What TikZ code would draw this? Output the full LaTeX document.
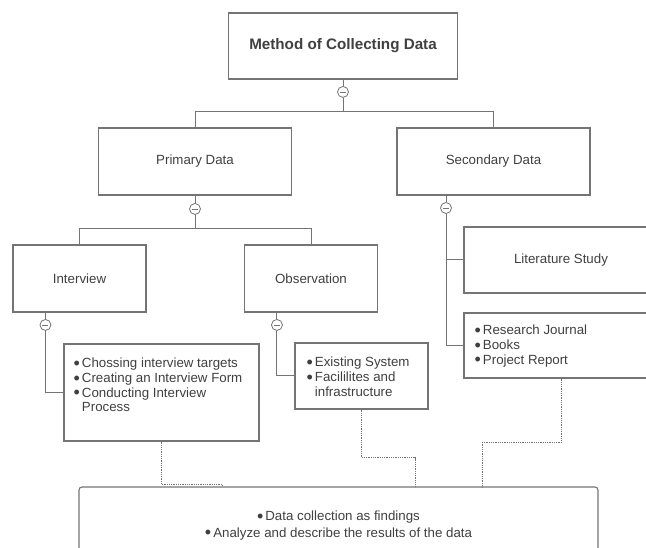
\documentclass[tikz,border=0pt]{standalone}
\usepackage{fontspec}
\setmainfont{Liberation Sans}
\usetikzlibrary{positioning}
\definecolor{linegray}{HTML}{747474}
\definecolor{txtgray}{HTML}{404040}
\newcommand{\bul}{\raisebox{-1.8pt}{\fontsize{18}{12}\selectfont\textbullet}}

\begin{document}
\begin{tikzpicture}[x=1pt,y=-1pt,
  box/.style={draw=linegray,line width=1.1pt,fill=white,text=txtgray,inner sep=0pt,font=\fontsize{13.3}{15}\selectfont},
  lst/.style={anchor=north west,inner sep=0pt,text=txtgray,font=\fontsize{13.3}{14.8}\selectfont},
  mk/.style={circle,draw=linegray,line width=0.8pt,fill=white,minimum size=11pt,inner sep=0pt,
    path picture={\draw[linegray,line width=0.8pt] ([xshift=-3pt]path picture bounding box.center)--([xshift=3pt]path picture bounding box.center);}},
  ln/.style={draw=linegray,line width=1pt},
  dl/.style={draw=linegray,line width=0.8pt,densely dotted}]
\useasboundingbox (0,0) rectangle (646,548);
\clip (0,0) rectangle (646,548);
% top level
\node[box,minimum width=229pt,minimum height=66pt,font=\fontsize{15.2}{17}\selectfont\bfseries] (method) at (343,46) {Method of Collecting Data};
\node[box,minimum width=193pt,minimum height=67pt] (primary) at (195,161.5) {Primary Data};
\node[box,minimum width=193pt,minimum height=67pt] (secondary) at (493.5,161.5) {Secondary Data};
\node[mk,below=6.5pt of method] (m1) {};
\draw[ln] (method.south) -- (m1.north);
\draw[ln] (m1.south) -- ++(0,13.5) coordinate (j1);
\draw[ln] (primary.north) |- (j1) -| (secondary.north);
% primary data
\node[box,minimum width=133pt,minimum height=67pt] (interview) at (79.5,278.5) {Interview};
\node[box,minimum width=133pt,minimum height=67pt] (observation) at (311,278.5) {Observation};
\node[mk,below=7.5pt of primary] (m2) {};
\draw[ln] (primary.south) -- (m2.north);
\draw[ln] (m2.south) -- ++(0,13.5) coordinate (j2);
\draw[ln] (interview.north) |- (j2) -| (observation.north);
% secondary data
\node[box,minimum width=194pt,minimum height=66pt] (literature) at (561,260) {Literature Study};
\node[box,minimum width=194pt,minimum height=65pt] (sources) at (561,345.5) {};
\node[lst] at ([xshift=11pt,yshift=-11.5pt]sources.north west) {\begin{tabular}{@{}l@{\hspace{2pt}}l@{}}\bul & Research Journal\\ \bul & Books\\ \bul & Project Report\end{tabular}};
\node[mk] (m3) at (446,208) {};
\draw[ln] (m3 |- secondary.south) -- (m3.north);
\draw[ln] (m3.south) |- (sources.west);
\draw[ln] (m3 |- literature.west) -- (literature.west);
% interview and observation
\node[box,minimum width=195pt,minimum height=97pt] (ilist) at (161.5,392.5) {};
\node[lst] at ([xshift=10pt,yshift=-13.5pt]ilist.north west) {\begin{tabular}{@{}l@{\hspace{2pt}}l@{}}\bul & Chossing interview targets\\ \bul & Creating an Interview Form\\ \bul & Conducting Interview\\ & Process\end{tabular}};
\node[box,minimum width=133pt,minimum height=66pt] (olist) at (361.5,376) {};
\node[lst] at ([xshift=12pt,yshift=-13.5pt]olist.north west) {\begin{tabular}{@{}l@{\hspace{2pt}}l@{}}\bul & Existing System\\ \bul & Facililites and\\ & infrastructure\end{tabular}};
\node[mk,below=6.5pt of interview.south west,xshift=33pt] (m4) {};
\node[mk,below=6.5pt of observation.south west,xshift=33pt] (m5) {};
\draw[ln] (m4 |- interview.south) -- (m4.north);
\draw[ln] (m4.south) |- (ilist.west);
\draw[ln] (m5 |- observation.south) -- (m5.north);
\draw[ln] (m5.south) |- (olist.west);
% result
\node[box,rounded corners=3pt,minimum width=519pt,minimum height=77pt,align=center,font=\fontsize{13.3}{16.5}\selectfont] (result) at (338.5,525.5) {\bul\hspace{2pt}Data collection as findings\\ \bul\hspace{2pt}Analyze and describe the results of the data};
\coordinate (r1) at (222,487);
\coordinate (r2) at (415,487);
\coordinate (r3) at (482,487);
\draw[dl] (ilist.south) -- ++(0,43) -| (r1);
\draw[dl] (olist.south) -- ++(0,48) -| (r2);
\draw[dl] (sources.south) -- ++(0,64) -| (r3);
\end{tikzpicture}
\end{document}
